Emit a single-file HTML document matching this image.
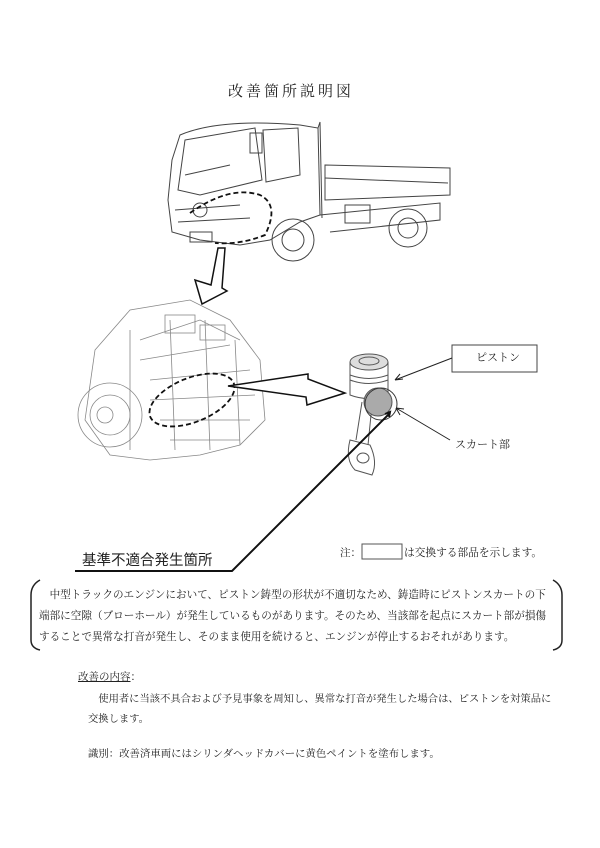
<!DOCTYPE html>
<html><head><meta charset="utf-8"><style>
body{margin:0;background:#fff;}
.pg{position:relative;width:600px;height:848px;overflow:hidden;font-family:"Liberation Serif","Noto Serif CJK SC","Noto Sans CJK JP",serif;color:#222;}
.t{position:absolute;white-space:nowrap;}
</style></head><body><div class="pg">
<svg width="600" height="848" style="position:absolute;left:0;top:0" fill="none" stroke="#333" stroke-width="1">
<g stroke="#444">
<path d="M180 135 Q220 118 300 125 L318 128 L320 215 L300 222 L270 240 L240 245 L200 240 L172 232 L168 200 L172 160 Z"/>
<path d="M185 140 L255 128 L262 180 L200 195 L178 190 Z"/>
<path d="M263 130 L298 128 L300 175 L266 182 Z"/>
<path d="M318 128 L320 122 L322 218"/>
<path d="M325 165 L450 168 L450 195 L325 200 Z"/>
<path d="M325 178 L448 183"/>
<path d="M320 215 L440 203 L440 220 L330 232"/>
<circle cx="293" cy="240" r="21"/><circle cx="293" cy="240" r="11"/>
<circle cx="408" cy="228" r="19"/><circle cx="408" cy="228" r="10"/>
<rect x="345" y="205" width="25" height="18"/>
<rect x="250" y="133" width="12" height="20"/>
<circle cx="200" cy="210" r="7"/>
<path d="M175 210 L240 205 M178 222 L250 218 M185 175 L230 165"/>
<rect x="190" y="232" width="22" height="10"/>
</g>
<path d="M190 213 Q230 185 260 195 Q280 205 265 235 Q240 245 215 243" stroke="#111" stroke-width="1.8" stroke-dasharray="5,3"/>
<polygon points="218,248 225,248 222,288 227,291 202,304 195,280 211,285" fill="#fff" stroke="#111" stroke-width="1.5"/>
<g stroke="#888" stroke-width="0.8">
<path d="M95 350 L130 310 L190 300 L230 320 L260 360 L265 420 L240 445 L200 455 L150 460 L110 455 L85 420 Z"/>
<circle cx="110" cy="415" r="32"/><circle cx="110" cy="415" r="20"/><circle cx="105" cy="415" r="8"/>
<path d="M140 340 L200 320 L240 340 M140 360 L230 345 M150 380 L250 370 M150 400 L255 395 M160 420 L250 420 M170 440 L240 440 M130 330 L130 450 M170 320 L175 450 M205 320 L210 450 M235 340 L240 445"/>
<rect x="165" y="315" width="30" height="18"/><rect x="200" y="325" width="25" height="15"/>
</g>
<ellipse cx="192" cy="400" rx="45" ry="22" transform="rotate(-22 192 400)" stroke="#111" stroke-width="1.8" stroke-dasharray="5,3"/>
<polygon points="228,386 308,374 308,379 345,393 307,405 306,397" fill="#fff" stroke="#111" stroke-width="1.5"/>
<g stroke="#555">
<path d="M350 362 L350 395 Q368 402 388 395 L388 362"/>
<ellipse cx="369" cy="362" rx="19" ry="8" fill="#ddd"/>
<ellipse cx="369" cy="361" rx="10" ry="4"/>
<path d="M350 375 Q369 382 388 375 M350 380 Q369 387 388 380"/>
<path d="M362 402 L356 440 M372 405 L368 445"/>
<path d="M350 440 Q345 460 355 470 L372 475 Q378 462 370 445 Z" fill="#fff"/>
<ellipse cx="363" cy="458" rx="6" ry="5"/>
</g>
<circle cx="378" cy="402" r="14" fill="#aaa" stroke="#555"/>
<circle cx="381" cy="404" r="16" stroke="#333"/>
<rect x="452" y="345" width="85" height="27" stroke="#444"/>
<path d="M452 358 L395 380 M395 380 l8 -1 M395 380 l5 -6" stroke="#222"/>
<path d="M450 440 L396 408 M396 408 l8 1 M396 408 l4 7" stroke="#222"/>
<path d="M390 413 L232 571 L75 571" stroke="#111" stroke-width="2"/>
<path d="M385 414 l5 -2 l-1 5" stroke="#111" stroke-width="2"/>
<rect x="362" y="544" width="40" height="15" stroke="#555"/>
<path d="M40 580 Q31 585 31 595 L31 640 Q31 648 40 650" stroke="#222" stroke-width="1.5"/>
<path d="M553 580 Q562 585 562 595 L562 640 Q562 648 553 650" stroke="#222" stroke-width="1.5"/>
</svg>
<div class="t" style="left:228px;top:80px;font-size:15px;letter-spacing:3px">改善箇所説明図</div>
<div class="t" style="left:476px;top:349px;font-size:11px">ピストン</div>
<div class="t" style="left:455px;top:436px;font-size:11px">スカート部</div>
<div class="t" style="left:82px;top:549px;font-size:14.5px;font-family:'Liberation Sans','Noto Sans CJK JP',sans-serif">基準不適合発生箇所</div>
<div class="t" style="left:340px;top:545px;font-size:10.5px">注：</div>
<div class="t" style="left:404px;top:545px;font-size:10.7px">は交換する部品を示します。</div>
<div class="t" style="left:39px;top:585px;font-size:10.6px;line-height:21px">　中型トラックのエンジンにおいて、ピストン鋳型の形状が不適切なため、鋳造時にピストンスカートの下<br>端部に空隙（ブローホール）が発生しているものがあります。そのため、当該部を起点にスカート部が損傷<br>することで異常な打音が発生し、そのまま使用を続けると、エンジンが停止するおそれがあります。</div>
<div class="t" style="left:78px;top:669px;font-size:10.5px"><u>改善の内容</u>：</div>
<div class="t" style="left:88px;top:690px;font-size:10.3px;line-height:20px">　使用者に当該不具合および予見事象を周知し、異常な打音が発生した場合は、ピストンを対策品に<br>交換します。</div>
<div class="t" style="left:88px;top:745px;font-size:10.4px">識別：改善済車両にはシリンダヘッドカバーに黄色ペイントを塗布します。</div>
</div></body></html>
